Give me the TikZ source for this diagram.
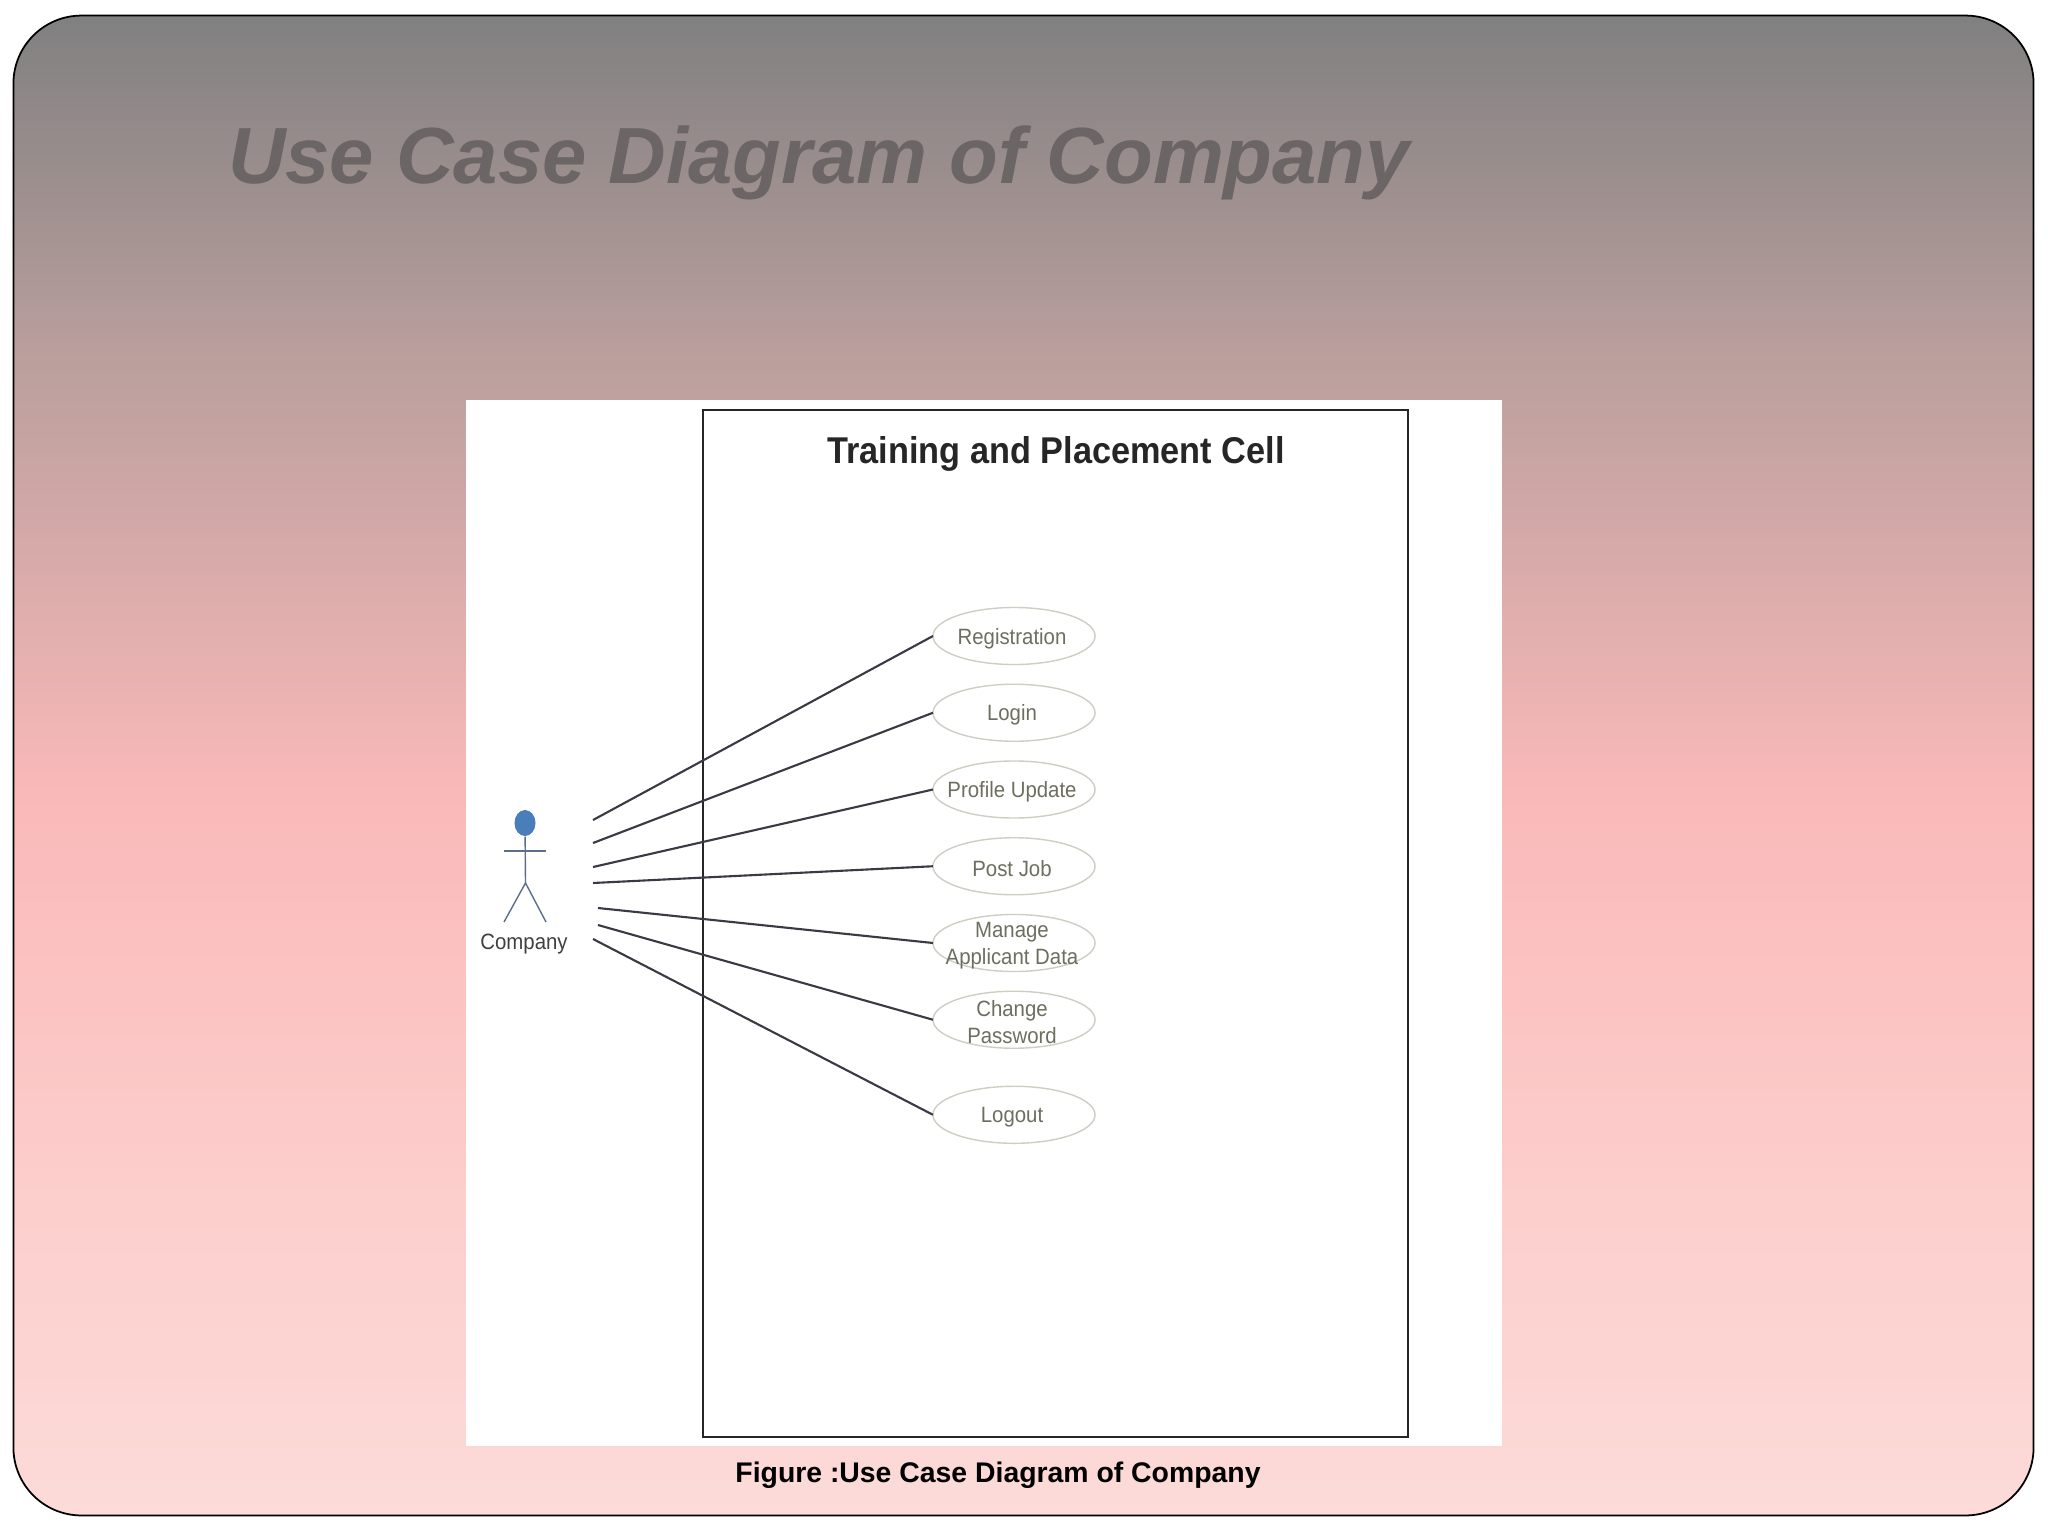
\documentclass[tikz,border=0pt]{standalone}
\usepackage{fontspec}
\setmainfont{Liberation Sans}
\newfontfamily\narrowfont[FakeStretch=0.92]{Liberation Sans}
\usetikzlibrary{positioning,shapes.geometric}
\definecolor{slidetop}{HTML}{808080}
\definecolor{slideupper}{HTML}{B89E9C}
\definecolor{slidepink}{HTML}{FAB9B9}
\definecolor{slidelower}{HTML}{FCCFCD}
\definecolor{slidebottom}{HTML}{FCDBD8}
\definecolor{headingcol}{HTML}{6B6565}
\definecolor{casecol}{HTML}{6E6E60}
\definecolor{caseline}{HTML}{CFCDC4}
\definecolor{actorblue}{HTML}{4A7EBB}
\definecolor{actorline}{HTML}{5C6F88}
\definecolor{linkcol}{HTML}{3A3A44}
\pgfdeclareverticalshading{slidefade}{100bp}{color(0bp)=(slidebottom); color(25bp)=(slidebottom); color(35bp)=(slidelower); color(49bp)=(slidepink); color(64bp)=(slideupper); color(75bp)=(slidetop); color(100bp)=(slidetop)}
\begin{document}
\begin{tikzpicture}[x=0.01cm, y=-0.01cm, node distance=0.197cm]
    \tikzstyle{usecase} = [ellipse, draw=caseline, line width=0.4pt, outer sep=0pt, inner sep=0pt, minimum width=1.62cm, minimum height=0.57cm]
    \tikzstyle{casetext} = [align=center, inner sep=0pt, xshift=-0.02cm, yshift=-0.025cm, text=casecol, font=\narrowfont\fontsize{6.3}{7.7}\selectfont]
    \tikzstyle{link} = [draw=linkcol, line width=0.6pt]
    \tikzstyle{limb} = [draw=actorline, line width=0.4pt]
    \useasboundingbox (0,0) rectangle (2048,1536);
    \node[rectangle, draw=black, line width=0.5pt, rounded corners=0.68cm, shading=slidefade, minimum width=20.19cm, minimum height=14.99cm] (slide) at (1023.5,765.5) {};
    \node[text=headingcol, font=\bfseries\itshape\fontsize{22.65}{26}\selectfont] (heading) at (819,163) {Use Case Diagram of Company};
    \node[rectangle, fill=white, minimum width=10.36cm, minimum height=10.46cm] (photo) at (984,923) {};
    \node[rectangle, draw=black!85, line width=0.6pt, minimum width=7.05cm, minimum height=10.27cm] (system) at (1055.5,923.5) {};
    \node[text=black!85, font=\narrowfont\bfseries\fontsize{10.6}{12}\selectfont] (cell) at (1056,454) {Training and Placement Cell};
    \node[font=\bfseries\fontsize{8.07}{10}\selectfont] (caption) at (998,1475) {Figure :Use Case Diagram of Company};

    \node[usecase] (reg) at (1014,636) {};
    \node[usecase, below=of reg] (login) {};
    \node[usecase, below=of login] (profile) {};
    \node[usecase, below=of profile] (post) {};
    \node[usecase, below=of post] (manage) {};
    \node[usecase, below=of manage] (change) {};
    \node[usecase, below=0.38cm of change] (logout) {};
    \node[casetext] (regtext) at (reg) {Registration};
    \node[casetext] (logintext) at (login) {Login};
    \node[casetext] (profiletext) at (profile) {Profile Update};
    \node[casetext] (posttext) at (post) {Post Job};
    \node[casetext] (managetext) at (manage) {Manage\\Applicant Data};
    \node[casetext] (changetext) at (change) {Change\\Password};
    \node[casetext] (logouttext) at (logout) {Logout};

    \node[ellipse, fill=actorblue, inner sep=0pt, minimum width=0.21cm, minimum height=0.26cm] (head) at (525,823) {};
    \coordinate (hip) at (525.5,883);
    \coordinate (armL) at (504,851);
    \coordinate (armR) at (546,851);
    \coordinate (footL) at (504,922);
    \coordinate (footR) at (546,922);
    \draw[limb] (head) -- (hip);
    \draw[limb] (armL) -- (armR);
    \draw[limb] (footL) -- (hip) -- (footR);
    \node[text=black!75, font=\narrowfont\fontsize{6.3}{8}\selectfont] (actor) at (524,944) {Company};

    \coordinate (a1) at (593,820);
    \coordinate (a2) at (593,843);
    \coordinate (a3) at (593,867);
    \coordinate (a4) at (593,883);
    \coordinate (a5) at (598,908);
    \coordinate (a6) at (598,925);
    \coordinate (a7) at (593,939);
    \draw[link] (a1) -- (reg.west);
    \draw[link] (a2) -- (login.west);
    \draw[link] (a3) -- (profile.west);
    \draw[link] (a4) -- (post.west);
    \draw[link] (a5) -- (manage.west);
    \draw[link] (a6) -- (change.west);
    \draw[link] (a7) -- (logout.west);
\end{tikzpicture}
\end{document}
